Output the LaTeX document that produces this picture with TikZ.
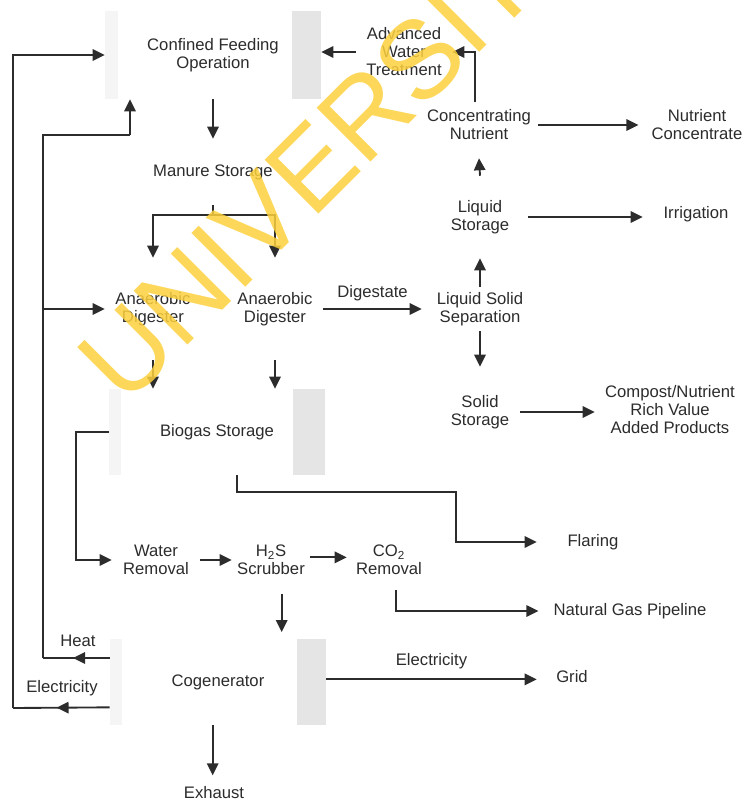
\documentclass[tikz,border=0pt]{standalone}
\usepackage{fontspec}
\setmainfont{Liberation Sans}
\usetikzlibrary{arrows.meta,decorations.markings}

\definecolor{ink}{HTML}{2C2C2C}
\definecolor{wmark}{RGB}{252,208,60}

\tikzset{
	stage/.style={inner sep=0pt,align=center,text=ink,font=\fontsize{12.5}{13.5}\selectfont},
	tag/.style={inner sep=0pt,text=ink,font=\fontsize{12.5}{13.5}\selectfont},
	flow/.style={-{Triangle[length=9pt,width=8.5pt]},line width=1.4pt,draw=ink},
	pipe/.style={line width=1.4pt,draw=ink},
	midflow/.style={pipe,postaction={decorate},
		decoration={markings,mark=at position 0.55 with {\arrow{Triangle[length=9pt,width=8.5pt]}}}},
	shade/.style={fill=gray!20},
	faint/.style={fill=gray!8}
}

\begin{document}
\begin{tikzpicture}[x=0.75pt,y=-0.75pt]
	\useasboundingbox (0,0) rectangle (750,804);

	% process stages
	\node[stage,minimum width=162pt,minimum height=66pt] (conf) at (213,55) {Confined Feeding\\Operation};
	\node[stage,minimum width=72pt,minimum height=45pt] (awt) at (404,52) {Advanced\\Water\\Treatment};
	\node[stage,minimum width=162pt,minimum height=49.5pt] (man) at (213,172) {Manure Storage};
	\node[stage,minimum width=72pt,minimum height=76.5pt] (ad1) at (153,309) {Anaerobic\\Digester};
	\node[stage,minimum width=72pt,minimum height=76.5pt] (ad2) at (275,309) {Anaerobic\\Digester};
	\node[stage,minimum width=87pt,minimum height=33pt] (lss) at (480,309) {Liquid Solid\\Separation};
	\node[stage,minimum width=72pt,minimum height=61.5pt] (liq) at (480,217) {Liquid\\Storage};
	\node[stage,minimum width=79.5pt,minimum height=36pt] (irr) at (696,214) {Irrigation};
	\node[stage,minimum width=88.5pt,minimum height=49.5pt] (cn) at (479,125) {Concentrating\\Nutrient};
	\node[stage,minimum width=79.5pt,minimum height=37.5pt] (nc) at (697,125) {Nutrient\\Concentrate};
	\node[stage,minimum width=60pt,minimum height=67.5pt] (sol) at (480,412) {Solid\\Storage};
	\node[stage,minimum width=112.5pt,minimum height=54pt] (comp) at (670,410) {Compost/Nutrient\\Rich Value\\Added Products};
	\node[stage,minimum width=162pt,minimum height=64.5pt] (bio) at (217,432) {Biogas Storage};
	\node[stage,minimum width=66pt,minimum height=45pt] (wr) at (156,560) {Water\\Removal};
	\node[stage,minimum width=58.5pt,minimum height=45pt] (h2s) at (271,560) {H\textsubscript{2}S\\Scrubber};
	\node[stage,minimum width=63pt,minimum height=45pt] (co2) at (389,560) {CO\textsubscript{2}\\Removal};
	\node[stage,minimum width=84pt] (fl) at (593,542) {Flaring};
	\node[stage,minimum width=129pt,minimum height=25.5pt] (ngp) at (630,611) {Natural Gas Pipeline};
	\node[stage,minimum width=162pt,minimum height=64.5pt] (cog) at (218,682) {Cogenerator};
	\node[stage,minimum width=52.5pt] (grid) at (572,677) {Grid};
	\node[stage,minimum height=26pt] (exh) at (214,793) {Exhaust};

	% scanned box edges
	\fill[shade] ([xshift=-22pt]conf.north east) rectangle (conf.south east);
	\fill[faint] (conf.north west) rectangle ([xshift=10pt]conf.south west);
	\fill[shade] ([xshift=-24pt]bio.north east) rectangle (bio.south east);
	\fill[faint] (bio.north west) rectangle ([xshift=9pt]bio.south west);
	\fill[shade] ([xshift=-22pt]cog.north east) rectangle (cog.south east);
	\fill[faint] (cog.north west) rectangle ([xshift=9pt]cog.south west);

	\coordinate (split) at (213,215);
	\coordinate (inner) at (43,658);
	\coordinate (outer) at (13,708);
	\coordinate (heatup) at (130,135);

	% main line
	\draw[flow] (conf.south) -- (man.north);
	\draw[pipe] (man.south) -- (split);
	\draw[flow] (split) -| (ad1.north);
	\draw[flow] (split) -| (ad2.north);
	\draw[flow] (ad1.south) -- (ad1.south |- bio.north);
	\draw[flow] (ad2.south) -- (ad2.south |- bio.north);
	\draw[flow] (ad2.east) -- node[tag,above=5pt] {Digestate} (lss.west);

	% digestate treatment
	\draw[flow] (lss.north) -- (liq.south);
	\draw[flow] (lss.south) -- (sol.north);
	\draw[flow] (liq.north) -- (cn.south);
	\draw[flow] (liq.east) -- (liq.east -| irr.west);
	\draw[flow,shorten >=4pt] (cn.east) -- (cn.east -| nc.west);
	\draw[flow] (sol.east) -- (sol.east -| comp.west);
	\draw[flow] ([xshift=-3pt,yshift=-8pt]cn.north) |- (awt.east);
	\draw[flow] (awt.west) -- (awt.west -| conf.east);

	% biogas line
	\draw[flow] (bio.west) -- ++(-33,0) |- (wr.west);
	\draw[flow] ([xshift=15pt]bio.south) |- (456,492) |- (fl.west);
	\draw[flow] (wr.east) -- (h2s.west);
	\draw[flow] ([yshift=2pt]h2s.east) -- ([yshift=2pt]co2.west);
	\draw[flow,shorten >=4pt] ([xshift=5pt]co2.south) |- (ngp.west);
	\draw[flow,shorten <=3pt,shorten >=5pt] ([xshift=8pt]h2s.south) -- ([xshift=8pt]h2s.south |- cog.north);

	% cogenerator outputs
	\draw[midflow] ([yshift=18pt]cog.west) -- (inner);
	\draw[pipe] (inner) |- (heatup);
	\draw[flow] (heatup) -- (heatup |- conf.south);
	\draw[flow] (inner |- ad1.west) -- (ad1.west);
	\draw[midflow] ([yshift=-19pt]cog.west) -- (outer);
	\draw[flow] (outer) |- (conf.west);
	\node[tag] (heat) at (78,641) {Heat};
	\node[tag] (elec) at (62,688) {Electricity};
	\draw[flow] ([yshift=2pt]cog.east) -- node[tag,above=7pt] {Electricity} ([yshift=2pt]cog.east -| grid.west);
	\draw[flow] ([xshift=-4pt]cog.south) -- ([xshift=-4pt]cog.south |- exh.north);

	% watermark
	\node[text=wmark,opacity=0.85,rotate=45,inner sep=0pt,font=\fontsize{83}{83}\selectfont] (mark) at (333,146) {UNIVERSITY};
\end{tikzpicture}
\end{document}
